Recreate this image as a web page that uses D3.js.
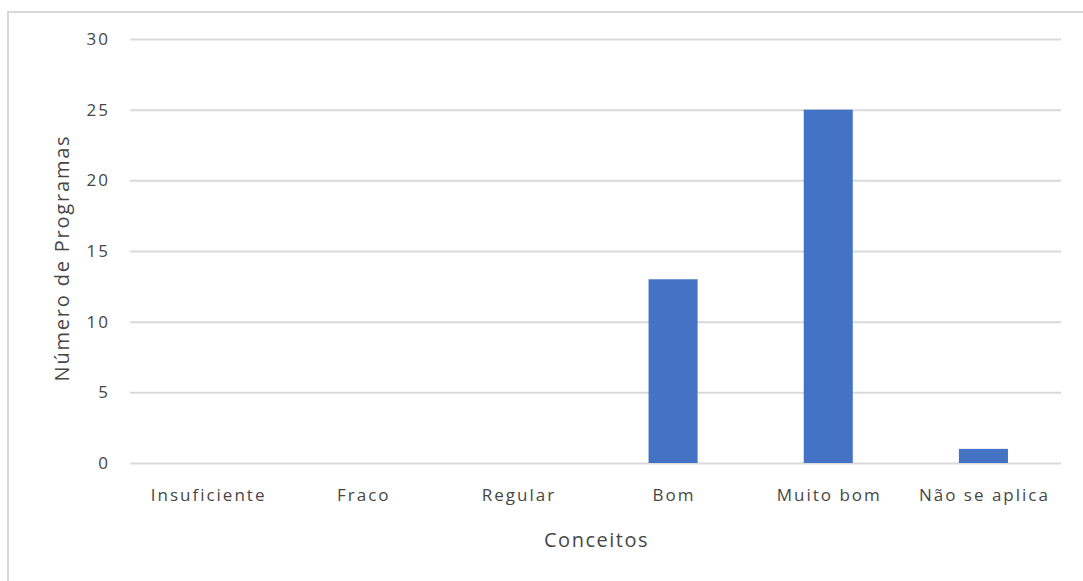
<!DOCTYPE html>
<html><head><meta charset="utf-8">
<script src="https://cdn.jsdelivr.net/npm/d3@7"></script>
<style>body{margin:0;background:#fff}</style>
</head><body><svg id="c" width="1083" height="581"></svg>
<script>
const categories = ["Insuficiente","Fraco","Regular","Bom","Muito bom","Não se aplica"];
const values = [0,0,0,13,25,1];
const yTicks = [0,5,10,15,20,25,30];
const yTitle = "Número de Programas";
const xTitle = "Conceitos";

const svg = d3.select("#c");
const font = "'Open Sans', sans-serif";
const txt = "#474747";
const M = {left:130, right:1061, top:39, bottom:463};

svg.append("rect").attr("x",8).attr("y",12).attr("width",1090).attr("height",600)
  .attr("fill","none").attr("stroke","#d9d9d9").attr("stroke-width",2);

const x = d3.scaleBand().domain(categories).range([M.left,M.right]).paddingInner(0).paddingOuter(0);
const y = d3.scaleLinear().domain([0,30]).range([M.bottom,M.top]);

const grid = svg.append("g").attr("transform",`translate(${M.left},0)`)
  .call(d3.axisLeft(y).tickValues(yTicks).tickSize(-(M.right-M.left)).tickFormat(""));
grid.select(".domain").remove();
grid.selectAll("line").attr("stroke","#d9d9d9").attr("stroke-width",2);

const yl = svg.append("g").attr("transform",`translate(${M.left},0)`)
  .call(d3.axisLeft(y).tickValues(yTicks).tickSize(0).tickPadding(20));
yl.select(".domain").remove();
yl.selectAll("text").attr("font-family",font).attr("font-size",17).attr("letter-spacing",2).attr("fill",txt);

const barW = x.bandwidth()*0.316;
svg.append("g").selectAll("rect").data(values).join("rect")
  .attr("x",(d,i)=>x(categories[i])+x.bandwidth()/2-barW/2)
  .attr("y",d=>y(d)).attr("width",barW).attr("height",d=>y(0)-y(d))
  .attr("fill","#4472c4");

const xl = svg.append("g").attr("transform",`translate(0,${M.bottom})`)
  .call(d3.axisBottom(x).tickSize(0).tickPadding(26));
xl.select(".domain").remove();
xl.selectAll("text").attr("font-family",font).attr("font-size",17).attr("letter-spacing",2)
  .attr("dx",1).attr("fill",txt);

svg.append("text").attr("x",(M.left+M.right)/2+1).attr("y",547).attr("text-anchor","middle")
  .attr("font-family",font).attr("font-size",20).attr("letter-spacing",1.5).attr("fill",txt).text(xTitle);
svg.append("text").attr("transform","translate(69,258) rotate(-90)").attr("text-anchor","middle")
  .attr("font-family",font).attr("font-size",20).attr("letter-spacing",1.8).attr("fill",txt).text(yTitle);
</script></body></html>
